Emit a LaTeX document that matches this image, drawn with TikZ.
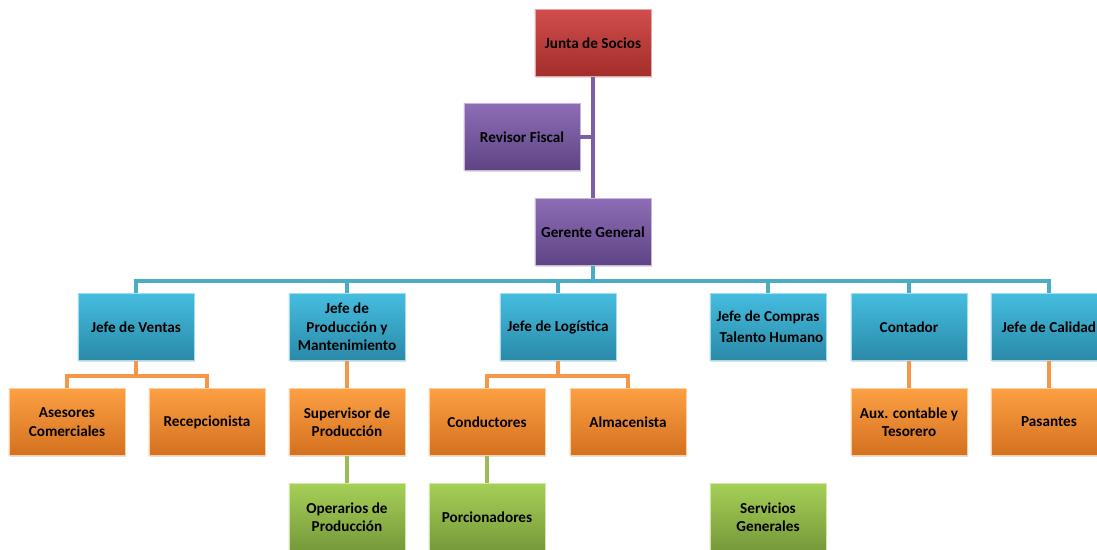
\documentclass[tikz,border=0pt]{standalone}
\usepackage{fontspec}
\setmainfont{Carlito}
\usetikzlibrary{shadows}
\definecolor{redA}{HTML}{D04E4B}
\definecolor{redB}{HTML}{A32D2B}
\definecolor{purA}{HTML}{8D6DB6}
\definecolor{purB}{HTML}{5E4484}
\definecolor{purL}{HTML}{7B5EA4}
\definecolor{bluA}{HTML}{45BDDF}
\definecolor{bluB}{HTML}{2A89A8}
\definecolor{bluL}{HTML}{4BACC6}
\definecolor{oraA}{HTML}{FCA043}
\definecolor{oraB}{HTML}{D4701F}
\definecolor{oraL}{HTML}{F79646}
\definecolor{greA}{HTML}{A6CF57}
\definecolor{greB}{HTML}{76993A}
\definecolor{greL}{HTML}{9BBB59}
\tikzset{
  box/.style={rectangle, minimum width=2.9cm, minimum height=1.675cm, inner sep=1pt,
    align=center, font=\fontsize{10.8}{13}\selectfont\bfseries, line width=0.6pt,
    drop shadow={opacity=0.25, shadow xshift=0.8pt, shadow yshift=-0.8pt}},
  redbox/.style={box, top color=redA, bottom color=redB, draw=redA!50!white},
  purbox/.style={box, top color=purA, bottom color=purB, draw=purA!50!white},
  blubox/.style={box, top color=bluA, bottom color=bluB, draw=bluA!50!white},
  orabox/.style={box, top color=oraA, bottom color=oraB, draw=oraA!50!white},
  grebox/.style={box, top color=greA, bottom color=greB, draw=greA!50!white},
  link/.style={line width=2.4pt}
}
\begin{document}
\begin{tikzpicture}[x=0.025cm, y=-0.025cm]
  \useasboundingbox (0,0) rectangle (1097,550);
  \node [redbox] (JS) at (593,43) {Junta de Socios};
  \node [purbox] (RF) at (522,137) {Revisor Fiscal};
  \node [purbox] (GG) at (593,232) {Gerente General};

  \node [blubox] (JV) at (136,327) {Jefe de Ventas};
  \node [blubox] (JP) at (347,327) {Jefe de\\Producción y\\Mantenimiento};
  \node [blubox] (JL) at (558,327) {Jefe de Logística};
  \node [blubox] (JC) at (768,327) {Jefe de Compras\\[2pt]\ \ Talento Humano};
  \node [blubox] (CO) at (909,327) {Contador};
  \node [blubox] (JCa) at (1049,327) {Jefe de Calidad};

  \node [orabox] (AC) at (67,422) {Asesores\\Comerciales};
  \node [orabox] (RE) at (207,422) {Recepcionista};
  \node [orabox] (SP) at (347,422) {Supervisor de\\Producción};
  \node [orabox] (CD) at (487,422) {Conductores};
  \node [orabox] (AL) at (628,422) {Almacenista};
  \node [orabox] (AX) at (909,422) {Aux. contable y\\Tesorero};
  \node [orabox] (PA) at (1049,422) {Pasantes};

  \node [grebox] (OP) at (347,517) {Operarios de\\Producción};
  \node [grebox] (PO) at (487,517) {Porcionadores};
  \node [grebox] (SG) at (768,517) {Servicios\\Generales};

  \coordinate (B) at (593,281);
  \coordinate (VB) at (136,376);
  \coordinate (LB) at (558,376);

  \draw [link, purL] (JS) -- (GG);
  \draw [link, purL] (RF.east) -- (RF.east -| JS.south);
  \draw [link, bluL] (GG) -- (B);
  \foreach \n in {JV,JP,JL,JC,CO,JCa}
    \draw [link, bluL] (B) -| (\n.north);
  \draw [link, oraL] (JV) -- (VB);
  \foreach \n in {AC,RE}
    \draw [link, oraL] (VB) -| (\n.north);
  \draw [link, oraL] (JL) -- (LB);
  \foreach \n in {CD,AL}
    \draw [link, oraL] (LB) -| (\n.north);
  \draw [link, oraL] (JP) -- (SP);
  \draw [link, oraL] (CO) -- (AX);
  \draw [link, oraL] (JCa) -- (PA);
  \draw [link, greL] (SP) -- (OP);
  \draw [link, greL] (CD) -- (PO);
\end{tikzpicture}
\end{document}
